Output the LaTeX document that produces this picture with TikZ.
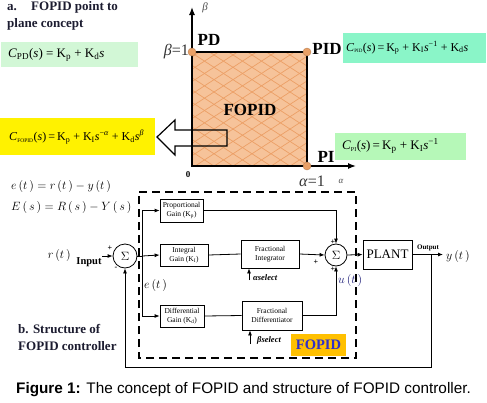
\documentclass[tikz,border=0pt]{standalone}
\usepackage{fontspec}
\setmainfont{Liberation Serif}
\newfontfamily\arialf{Liberation Sans}
\usetikzlibrary{arrows.meta,calc}
\definecolor{sqfill}{HTML}{F6C39A}
\definecolor{sqline}{HTML}{EC9F66}
\definecolor{dotc}{HTML}{E9A066}
\definecolor{gPD}{HTML}{D2F7D6}
\definecolor{gPID}{HTML}{8AF5C8}
\definecolor{gPI}{HTML}{B6F8B8}
\definecolor{fopidbg}{HTML}{FFC000}
\definecolor{fopidtx}{HTML}{3030C8}
\definecolor{ttl}{HTML}{1C1C30}
\begin{document}
\begin{tikzpicture}[x=1pt,y=-1pt,
  arr/.style={-{Latex[length=5pt,width=4pt]}},
  blk/.style={draw,line width=0.8pt,align=center,inner sep=0pt,font=\fontsize{7.5}{8.5}\selectfont},
  sumc/.style={draw,circle,line width=0.8pt,inner sep=0pt},
  dot/.style={circle,fill=dotc,draw=dotc!80!black,line width=0.4pt,inner sep=0pt,minimum size=8pt},
  lbl/.style={inner sep=0pt,font=\fontsize{17}{18}\selectfont\bfseries},
  sgn/.style={inner sep=0pt,font=\fontsize{8}{8}\selectfont\bfseries},
  eqbox/.style={inner sep=0pt,anchor=west,font=\fontsize{13}{14}\selectfont}]
\useasboundingbox (0,0) rectangle (487,402);

% ---------- part a ----------
\node[inner sep=0pt,anchor=north west,align=left,text=ttl,font=\fontsize{13}{17}\selectfont\bfseries] (ta) at (7,1) {a.\hspace{1.1em}FOPID point to\\plane concept};

\fill[gPD] (1,42) rectangle (138,67);
\node[eqbox] (cpd) at (8,55) {\textit{C}\textsubscript{PD}(\textit{s}) = K\textsubscript{p} + K\textsubscript{d}\textit{s}};

\fill[yellow] (0,118) rectangle (155,155);
\node[eqbox,font=\fontsize{12}{13}\selectfont] (cfo) at (9,137) {\textit{C}\textsubscript{\fontsize{5.5}{5}\selectfont FOPID}(\textit{s})\,=\,K\textsubscript{p} + K\textsubscript{I}\textit{s}\textsuperscript{−\textit{α}} + K\textsubscript{d}\textit{s}\textsuperscript{\textit{β}}};

% square with pattern
\fill[sqfill] (192,52) rectangle (307,166);
\begin{scope}
  \clip (192,52) rectangle (307,166);
  \foreach \k in {0,...,20} {
    \draw[sqline,line width=0.7pt] (20+\k*19,40) -- ++(200,130);
    \draw[sqline,line width=0.7pt] (180+\k*19,40) -- ++(-200,130);
  }
\end{scope}

\coordinate (O) at (192,166);
\coordinate (PDc) at (192,52);
\coordinate (PIDc) at (307,52);
\coordinate (PIc) at (307,166);
\coordinate (btip) at (192,7);
\coordinate (atip) at (356,166);
\draw[line width=1.3pt] (O) -- (PDc) -- (PIDc) -- (PIc) -- cycle;
\draw[line width=1.3pt,-{Latex[length=8pt,width=6pt]}] (O) -- (btip);
\draw[line width=1.3pt,-{Latex[length=8pt,width=6pt]}] (O) -- (atip);
\node[dot] (dPD) at (PDc) {};
\node[dot] (dPID) at (PIDc) {};
\node[dot] (dPI) at (PIc) {};

\node[inner sep=0pt,font=\fontsize{11}{11}\selectfont\itshape,text=black!70] (beta) at (205,8) {β};
\node[inner sep=0pt,font=\fontsize{16}{16}\selectfont\itshape,anchor=east,text=black!80] (b1) at (189,52) {β\textup{=1}};
\node[lbl] (lPD) at (209,40) {PD};
\node[lbl] (lPID) at (327,49) {PID};
\node[lbl] (lPI) at (326,157) {PI};
\node[lbl] (lF) at (250,110) {FOPID};
\node[inner sep=0pt,font=\fontsize{9}{9}\selectfont\bfseries] (zero) at (188,175) {0};
\node[inner sep=0pt,font=\fontsize{16}{16}\selectfont\itshape,text=black!80] (a1) at (312,181) {α\textup{=1}};
\node[inner sep=0pt,font=\fontsize{9}{9}\selectfont\itshape,text=black!70] (alab) at (341,181) {α};

\fill[gPID] (343,33) rectangle (486,63);
\node[eqbox,font=\fontsize{12}{13}\selectfont] (cpid) at (346,48) {\textit{C}\textsubscript{\fontsize{5}{5}\selectfont PID}(\textit{s})\,=\,K\textsubscript{p} + K\textsubscript{I}\textit{s}\textsuperscript{−1} + K\textsubscript{d}\textit{s}};

\fill[gPI] (335,133) rectangle (466,160);
\node[eqbox] (cpi) at (342,146) {\textit{C}\textsubscript{\fontsize{6}{6}\selectfont PI}(\textit{s})\,=\,K\textsubscript{p} + K\textsubscript{I}\textit{s}\textsuperscript{−1}};

% hollow arrow
\draw[line width=1.2pt] (157,137) -- (175,120) -- (175,130) -- (227,130) -- (227,146) -- (175,146) -- (175,155) -- cycle;

% ---------- part b ----------
\node[inner sep=0pt,anchor=west,font=\fontsize{12}{12}\selectfont] (eq1) at (11,186) {$e\,(t\,)=r\,(t\,)-y\,(t\,)$};
\node[inner sep=0pt,anchor=west,font=\fontsize{12}{12}\selectfont] (eq2) at (11,207) {$E\,(\,s\,)=R\,(\,s\,)-Y\,(\,s\,)$};

% dashed FOPID box
\draw[line width=1.5pt,dash pattern=on 8pt off 5pt] (139,192) -- (356,192) -- (356,358) -- (139,358) -- cycle;

\node[blk,minimum width=43pt,minimum height=23pt] (pg) at (181.5,210.5) {Proportional\\Gain (K\textsubscript{p})};
\node[blk,minimum width=48pt,minimum height=22pt] (ig) at (184,255) {Integral\\Gain (K\textsubscript{I})};
\node[blk,minimum width=58pt,minimum height=28pt] (fi) at (270,254) {Fractional\\Integrator};
\node[blk,minimum width=44pt,minimum height=22pt] (dg) at (182,316) {Differential\\Gain (K\textsubscript{d})};
\node[blk,minimum width=60pt,minimum height=29pt] (fd) at (272,315.5) {Fractional\\Differentiator};
\node[blk,minimum width=49pt,minimum height=29pt,font=\fontsize{13}{13}\selectfont] (plant) at (387.5,254.5) {PLANT};
\node[sumc,minimum size=24pt,font=\fontsize{13}{13}\selectfont] (s1) at (125,256) {$\Sigma$};
\node[sumc,minimum size=22pt,font=\fontsize{13}{13}\selectfont] (s2) at (336,255) {$\Sigma$};

\coordinate (inp) at (102,256);
\coordinate (br) at (142,256);
\coordinate (brp) at (142,210.5);
\coordinate (brd) at (142,316);
\coordinate (tap) at (431,254.5);
\coordinate (outp) at (443,254.5);
\coordinate (fb1) at (431,367);
\coordinate (fb2) at (125,367);

\draw[arr,line width=0.8pt] (inp) -- (s1.west);
\draw[line width=0.8pt] (s1.east) -- (br);
\draw[line width=0.8pt] (brp) -- (brd);
\draw[arr,line width=0.8pt] (brp) -- (pg.west);
\draw[arr,line width=0.8pt] (br) -- (ig.west);
\draw[arr,line width=0.8pt] (brd) -- (dg.west);
\draw[line width=0.8pt] (ig.east) -- (fi.west);
\draw[line width=0.8pt] (dg.east) -- (fd.west);
\draw[arr,line width=0.8pt] (fi.east) -- (s2.west);
\draw[arr,line width=0.8pt] (pg.east) -| (s2.north);
\draw[arr,line width=0.8pt] (fd.east) -| (s2.south);
\draw[arr,line width=0.8pt] (s2.east) -- (plant.west);
\draw[arr,line width=0.8pt] (plant.east) -- (outp);
\draw[arr,line width=0.8pt] (tap) -- (fb1) -- (fb2) -- (s1.south);

\node[sgn] at (110,248) {+};
\node[sgn] at (116,268) {-};
\node[sgn] at (333,242) {+};
\node[sgn] at (316,262) {+};
\node[sgn] at (333,269) {+};

\node[inner sep=0pt,anchor=east,font=\fontsize{12}{12}\selectfont] (rt) at (71,255) {$r\,(t\,)$};
\node[inner sep=0pt,font=\fontsize{10.5}{10}\selectfont\bfseries] (inlbl) at (89,262) {Input};
\node[inner sep=0pt,font=\fontsize{7}{7}\selectfont\bfseries] (outlbl) at (428,248) {Output};
\node[inner sep=0pt,anchor=west,font=\fontsize{12}{12}\selectfont] (yt) at (446,256) {$y\,(t\,)$};
\node[inner sep=0pt,anchor=west,font=\fontsize{12}{12}\selectfont] (et) at (144,285) {$e\,(t\,)$};
\node[inner sep=0pt,anchor=west,font=\fontsize{12}{12}\selectfont,text=fopidtx!60!black] (ut) at (338,280) {$u\,(t\,)$};

\coordinate (asel) at (249,280);
\coordinate (bsel) at (250,344);
\draw[arr,line width=0.8pt] (asel) -- (asel |- fi.south);
\draw[arr,line width=0.8pt] (bsel) -- (bsel |- fd.south);
\node[inner sep=0pt,anchor=west,font=\fontsize{8.5}{8}\selectfont\bfseries\itshape] (atx) at (253,278) {αselect};
\node[inner sep=0pt,anchor=west,font=\fontsize{8.5}{8}\selectfont\bfseries\itshape] (btx) at (257,340) {βselect};

\node[fill=fopidbg,text=fopidtx,minimum width=55pt,minimum height=22pt,inner sep=0pt,font=\fontsize{14.5}{14}\selectfont\bfseries] (fop) at (318.5,345) {FOPID};

\node[inner sep=0pt,anchor=west,align=left,text=ttl,font=\fontsize{13}{17}\selectfont\bfseries] (tb) at (18,337) {b. Structure of\\FOPID controller};

% caption
\node[inner sep=0pt,anchor=west,font=\arialf\fontsize{15.3}{16}\selectfont] (cap) at (16,390) {\textbf{Figure 1:} The concept of FOPID and structure of FOPID controller.};
\end{tikzpicture}
\end{document}
